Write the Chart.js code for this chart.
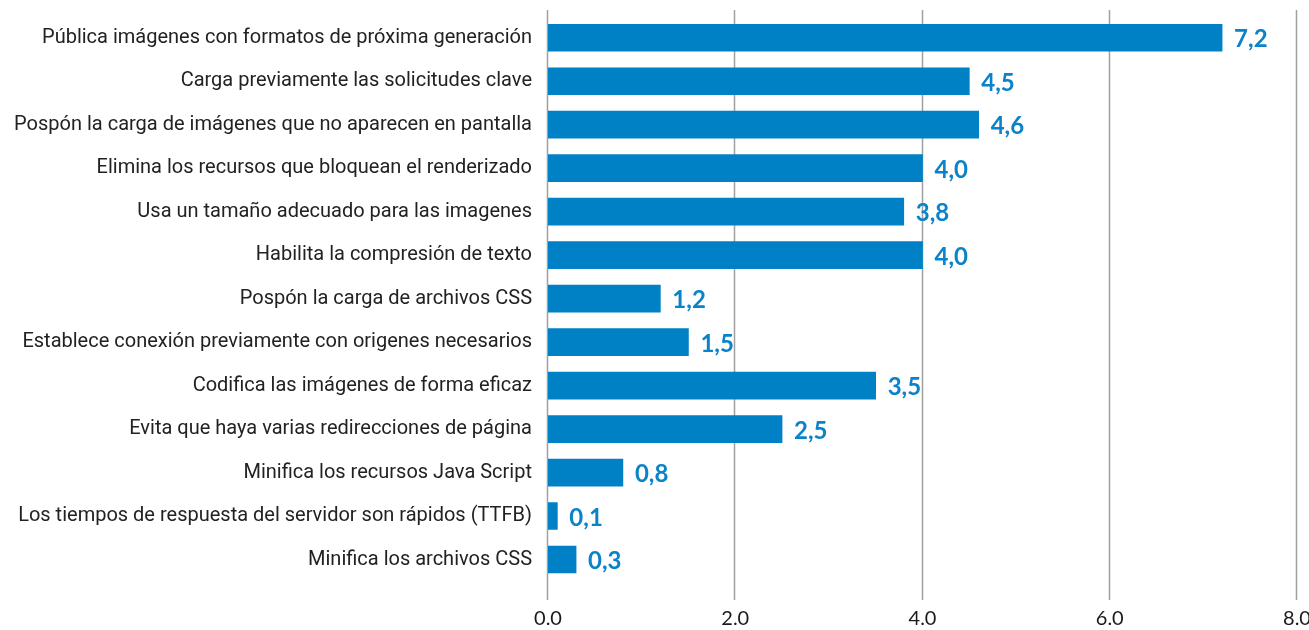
<!DOCTYPE html>
<html lang="es">
<head>
<meta charset="utf-8">
<title>Oportunidades de rendimiento</title>
<script src="https://cdn.jsdelivr.net/npm/chart.js@4"></script>
<style>
  html, body { margin: 0; padding: 0; background: #ffffff; }
  #wrap { width: 1309px; height: 630px; position: relative; }
</style>
</head>
<body>
<div id="wrap"><canvas id="savingsChart" width="1309" height="630"></canvas></div>
<script>
// Categories (top to bottom) and estimated savings in seconds
const categories = [
    'Pública imágenes con formatos de próxima generación',
    'Carga previamente las solicitudes clave',
    'Pospón la carga de imágenes que no aparecen en pantalla',
    'Elimina los recursos que bloquean el renderizado',
    'Usa un tamaño adecuado para las imagenes',
    'Habilita la compresión de texto',
    'Pospón la carga de archivos CSS',
    'Establece conexión previamente con origenes necesarios',
    'Codifica las imágenes de forma eficaz',
    'Evita que haya varias redirecciones de página',
    'Minifica los recursos Java Script',
    'Los tiempos de respuesta del servidor son rápidos (TTFB)',
    'Minifica los archivos CSS'
];
const savings = [7.2, 4.5, 4.6, 4.0, 3.8, 4.0, 1.2, 1.5, 3.5, 2.5, 0.8, 0.1, 0.3];
const xTicks = [0, 2, 4, 6, 8];

const BLUE = '#0081c6';

// Vertical grid lines run a bit past the bar area on both ends
const gridPlugin = {
    id: 'tallGrid',
    beforeDatasetsDraw(chart) {
        const ctx = chart.ctx;
        const x = chart.scales.x;
        ctx.save();
        ctx.strokeStyle = '#a0a0a0';
        ctx.lineWidth = 1.5;
        xTicks.forEach(v => {
            const px = Math.round(x.getPixelForValue(v)) - 0.5;
            ctx.beginPath();
            ctx.moveTo(px, 10);
            ctx.lineTo(px, 600);
            ctx.stroke();
        });
        ctx.restore();
    }
};

// Value labels at the end of each bar, decimal comma
const valueLabels = {
    id: 'valueLabels',
    afterDatasetsDraw(chart) {
        const ctx = chart.ctx;
        const meta = chart.getDatasetMeta(0);
        ctx.save();
        ctx.fillStyle = '#0a83c9';
        ctx.font = 'bold 24px Lato, "DejaVu Sans", sans-serif';
        ctx.textAlign = 'left';
        ctx.textBaseline = 'middle';
        meta.data.forEach((bar, i) => {
            const txt = savings[i].toFixed(1).replace('.', ',');
            ctx.fillText(txt, bar.x + 12, bar.y + 2);
        });
        ctx.restore();
    }
};

const ctx = document.getElementById('savingsChart').getContext('2d');
new Chart(ctx, {
    type: 'bar',
    data: {
        labels: categories,
        datasets: [{
            data: savings,
            backgroundColor: BLUE,
            borderWidth: 0,
            barThickness: 27
        }]
    },
    options: {
        indexAxis: 'y',
        responsive: false,
        animation: false,
        layout: { padding: { top: 16, right: 12, left: 0, bottom: 0 } },
        plugins: {
            legend: { display: false },
            tooltip: { enabled: false }
        },
        scales: {
            x: {
                min: 0,
                max: 8,
                afterBuildTicks(scale) {
                    scale.ticks = xTicks.map(v => ({ value: v }));
                },
                afterFit(scale) {
                    scale.height = 48.75;
                    scale.paddingLeft = 0;
                    scale.paddingRight = 0;
                },
                grid: { display: false, drawTicks: false },
                border: { display: false },
                ticks: {
                    padding: 25,
                    color: '#1a1a1a',
                    font: { family: 'Lato, "DejaVu Sans", sans-serif', size: 20 },
                    callback: v => Number(v).toFixed(1)
                }
            },
            y: {
                afterFit(scale) {
                    scale.width = 548;
                    scale.paddingTop = 0;
                    scale.paddingBottom = 0;
                },
                grid: { display: false, drawTicks: false },
                border: { display: false },
                ticks: {
                    padding: 16,
                    color: '#222222',
                    font: { family: 'Roboto, "Noto Sans", sans-serif', size: 20 }
                }
            }
        }
    },
    plugins: [gridPlugin, valueLabels]
});
</script>
</body>
</html>
